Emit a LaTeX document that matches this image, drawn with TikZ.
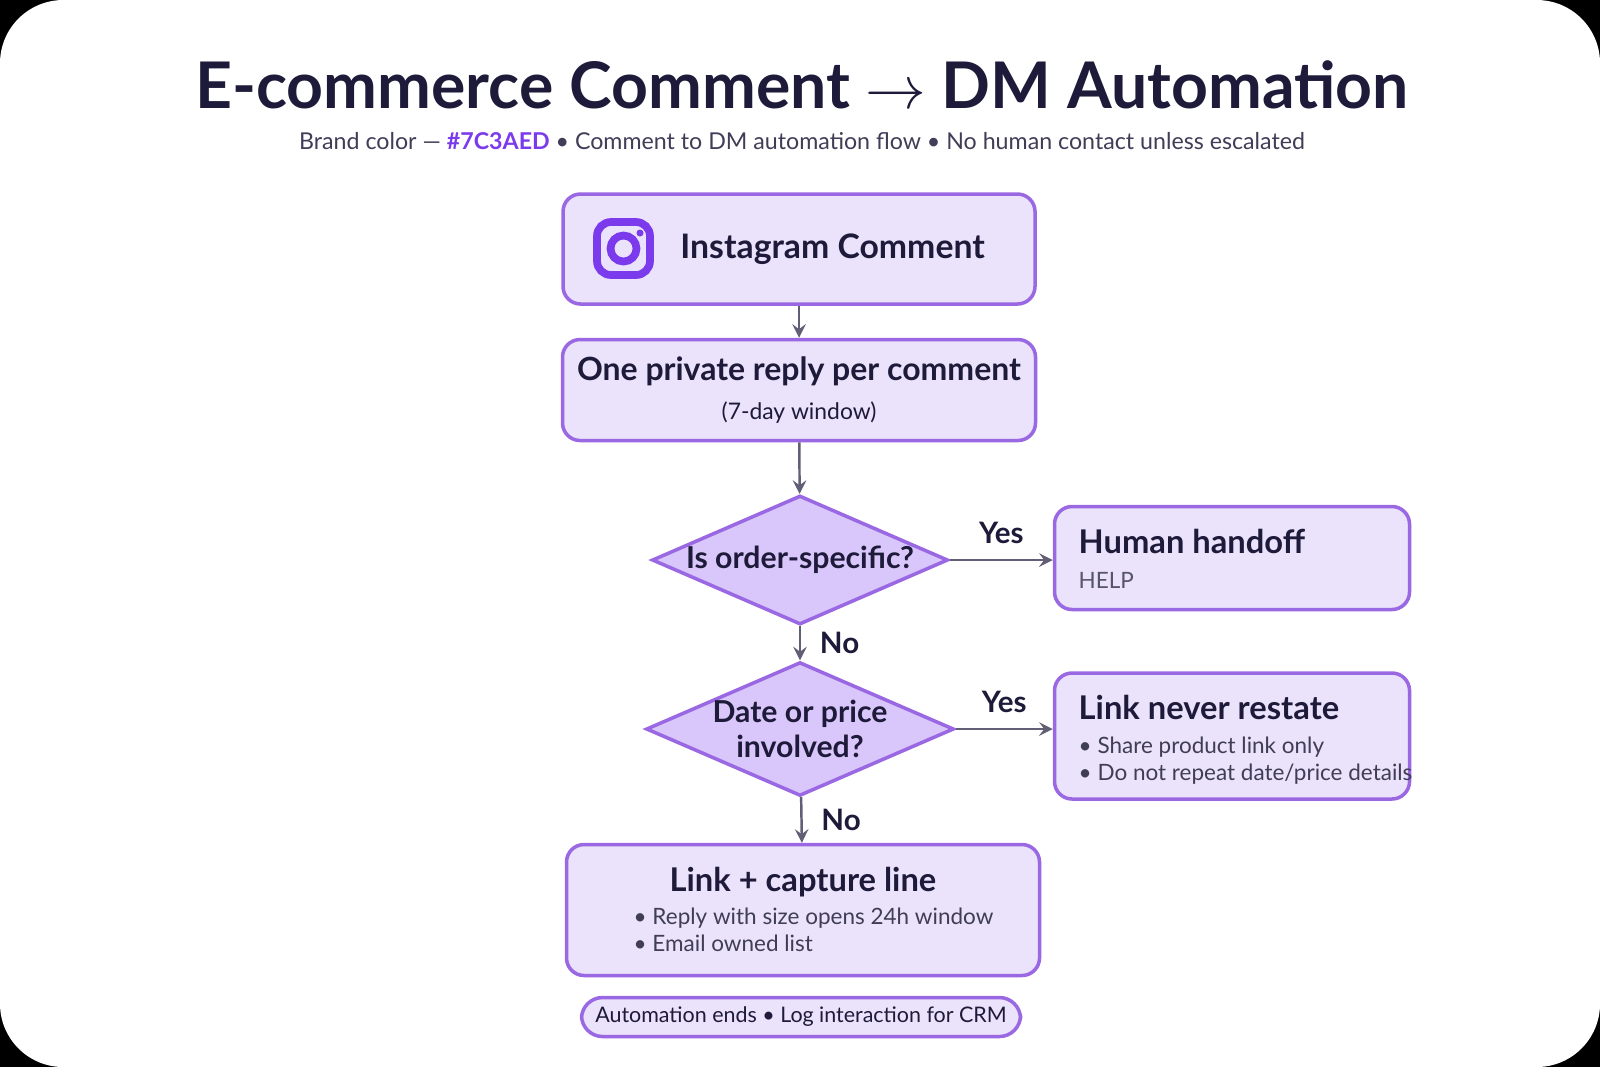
\documentclass[tikz,border=0pt]{standalone}
\usepackage{fontspec}
\setmainfont{Lato}
\usetikzlibrary{shapes.geometric,positioning}
\definecolor{brand}{HTML}{7C3AED}
\definecolor{boxfill}{HTML}{EBE2FC}
\definecolor{boxline}{HTML}{9A68E3}
\definecolor{ink}{HTML}{1E1B3A}
\definecolor{diafill}{HTML}{D9C6FA}
\tikzset{
  card/.style={draw=boxline, fill=boxfill, line width=1pt, rounded corners=5pt, align=center, text=ink},
  choice/.style={diamond, draw=boxline, fill=diafill, line width=1pt, aspect=2.3, inner sep=0pt, align=center, text=ink, font=\fontsize{8.6}{10}\selectfont\bfseries},
  flow/.style={->, >=stealth, draw=ink!70, line width=0.7pt},
  lbl/.style={text=ink, font=\fontsize{8.4}{10}\selectfont\bfseries},
  head/.style={text=ink, font=\fontsize{9.3}{11}\selectfont\bfseries, inner sep=0pt},
  note/.style={text=ink!85, font=\fontsize{6.4}{7.6}\selectfont, align=left, inner sep=0pt}
}
\begin{document}
\begin{tikzpicture}
\fill[black] (0,0) rectangle (16,-10.67);
\fill[white, rounded corners=18pt] (0,0) rectangle (16,-10.67);
\useasboundingbox (0,0) rectangle (16,-10.67);

\node[text=ink, font=\fontsize{18.3}{20}\selectfont\bfseries] (title) at (8.02,-0.85) {E-commerce Comment $\rightarrow$ DM Automation};
\node[text=ink!85, font=\fontsize{6.6}{8}\selectfont] (sub) at (8.02,-1.41) {Brand color --- \textcolor{brand}{\bfseries \#7C3AED} \textbullet\ Comment to DM automation flow \textbullet\ No human contact unless escalated};

\node[card, minimum width=4.72cm, minimum height=1.1cm] (insta) at (7.99,-2.49) {};
\node[text=ink, font=\fontsize{9.6}{11}\selectfont\bfseries, anchor=west] (instatxt) at (6.68,-2.49) {Instagram Comment};
\draw[brand, line width=2.2pt, rounded corners=4pt] (5.97,-2.22) rectangle (6.5,-2.75);
\draw[brand, line width=2.2pt] (6.235,-2.485) circle (0.13);
\fill[brand] (6.4,-2.33) circle (0.035);

\node[card, minimum width=4.73cm, minimum height=1.01cm] (once) at (7.99,-3.9) {{\fontsize{9.1}{11}\selectfont\bfseries One private reply per comment}\\[-1pt]{\fontsize{6.5}{8}\selectfont (7-day window)}};

\node[choice, minimum width=2.96cm, minimum height=1.29cm] (order) at (8.0,-5.6) {Is order-specific?};
\node[choice, minimum width=2.96cm, minimum height=1.29cm] (date) at (8.0,-7.29) {Date or price\\involved?};

\node[card, minimum width=3.55cm, minimum height=1.03cm] (human) at (12.32,-5.58) {};
\node[head, anchor=north west] (humantxt) at (10.78,-5.28) {Human handoff};
\node[note, anchor=north west, text=ink!75] (humannote) at (10.78,-5.72) {HELP};

\node[card, minimum width=3.55cm, minimum height=1.26cm] (never) at (12.32,-7.36) {};
\node[head, anchor=north west] (nevertxt) at (10.78,-6.94) {Link never restate};
\node[note, anchor=north west] (neverlist) at (10.78,-7.36) {\textbullet\ Share product link only\\\textbullet\ Do not repeat date/price details};

\node[card, minimum width=4.73cm, minimum height=1.31cm] (capture) at (8.03,-9.1) {};
\node[head, anchor=north] (capturetxt) at (8.03,-8.66) {Link + capture line};
\node[note, anchor=north west] (capturelist) at (6.33,-9.07) {\textbullet\ Reply with size opens 24h window\\\textbullet\ Email owned list};

\node[card, rounded corners=6pt, minimum width=4.39cm, minimum height=0.39cm, inner sep=1pt, font=\fontsize{6.1}{7.5}\selectfont] (ends) at (8.01,-10.17) {Automation ends \textbullet\ Log interaction for CRM};

\draw[flow] (insta) -- (once);
\draw[flow] (once) -- (order);
\draw[flow] (order) -- node[lbl, right=2pt] {No} (date);
\draw[flow] (date) -- node[lbl, right=2pt] {No} (capture);
\draw[flow] (order.east) -- node[lbl, above=1pt] {Yes} (human.west |- order.east);
\draw[flow] (date.east) -- node[lbl, above=1pt] {Yes} (never.west |- date.east);
\end{tikzpicture}
\end{document}
